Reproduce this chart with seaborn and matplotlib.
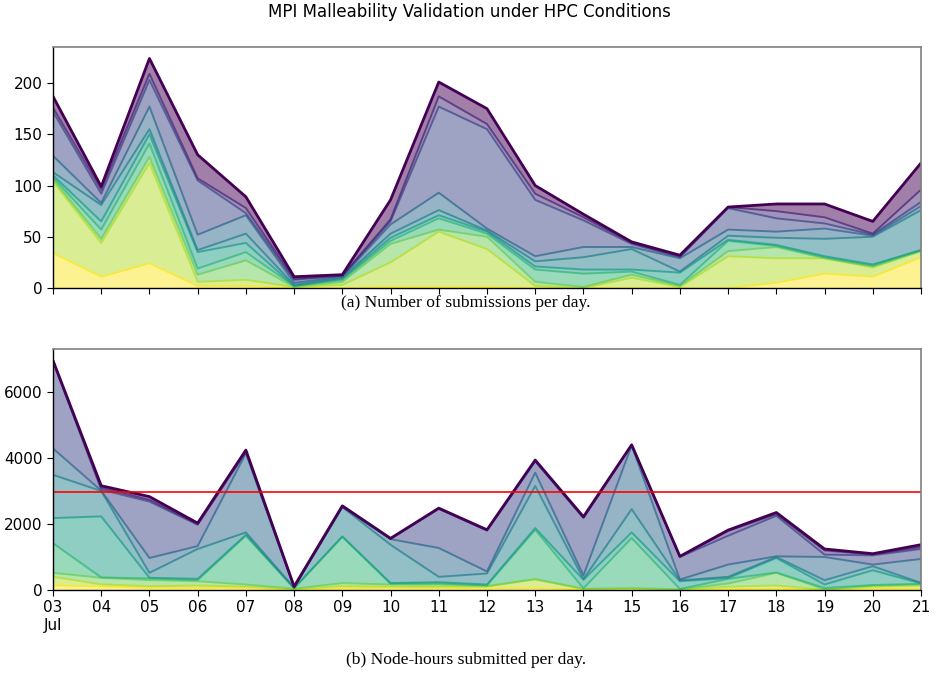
import numpy as np
import pandas as pd
import matplotlib
matplotlib.use("Agg")
import matplotlib.pyplot as plt
import seaborn as sns

days = pd.date_range("2023-07-03", "2023-07-21", freq="D")
day_labels = ["03\nJul"] + [d.strftime("%d") for d in days[1:]]

# submissions per day, one list per group (bottom of the stack first)
subs_g1 = [34, 11, 24, 2, 2, 0, 0, 1, 1, 1, 0, 0, 0, 0, 0, 5, 14, 11, 30]
subs_g2 = [70, 33, 98, 4, 6, 1, 3, 24, 54, 37, 2, 0, 10, 1, 31, 24, 15, 9, 6]
subs_g3 = [2, 4, 6, 7, 19, 0, 3, 18, 2, 12, 4, 1, 3, 1, 5, 11, 0, 1, 0]
subs_g4 = [2, 9, 13, 6, 8, 1, 2, 3, 11, 3, 12, 13, 3, 1, 10, 1, 1, 1, 1]
subs_g5 = [2, 8, 9, 16, 9, 0, 1, 3, 3, 2, 3, 4, 2, 12, 1, 1, 1, 1, 0]
subs_g6 = [3, 16, 5, 2, 9, 1, 1, 4, 5, 1, 5, 12, 20, 1, 4, 7, 17, 27, 39]
subs_g7 = [16, 2, 22, 15, 18, 2, 1, 9, 17, 2, 5, 10, 2, 13, 6, 6, 10, 1, 4]
subs_g8 = [43, 9, 26, 53, 2, 3, 1, 3, 84, 97, 55, 26, 3, 1, 21, 13, 5, 1, 4]
subs_g9 = [4, 4, 6, 2, 5, 1, 0, 2, 10, 5, 6, 3, 1, 1, 1, 7, 6, 1, 12]
subs_g10 = [11, 3, 15, 23, 11, 2, 1, 19, 14, 15, 8, 3, 1, 1, 0, 7, 13, 12, 26]

# node-hours per day, same groups
hours_g1 = [140, 110, 65, 66, 60, 20, 50, 66, 60, 50, 60, 20, 20, 0, 20, 40, 0, 50, 40]
hours_g2 = [260, 60, 50, 70, 40, 10, 65, 34, 36, 56, 260, 10, 20, 10, 76, 96, 10, 50, 96]
hours_g3 = [120, 200, 185, 130, 66, 10, 95, 66, 70, 14, 10, 10, 20, 10, 100, 383, 10, 36, 30]
hours_g4 = [900, 10, 50, 34, 1478, 10, 1400, 24, 34, 20, 1495, 10, 1515, 10, 142, 11, 40, 14, 21]
hours_g5 = [760, 1850, 20, 38, 30, 10, 15, 20, 36, 26, 51, 260, 169, 236, 22, 440, 106, 448, 13]
hours_g6 = [1310, 770, 150, 905, 70, 10, 885, 1160, 162, 334, 1277, 20, 706, 24, 38, 30, 130, 122, 17]
hours_g7 = [800, 10, 450, 87, 2396, 10, 10, 170, 875, 60, 401, 110, 1930, 27, 372, 20, 704, 50, 724]
hours_g8 = [2640, 30, 1710, 646, 40, 10, 10, 10, 1187, 1240, 346, 1740, 10, 683, 874, 1228, 71, 280, 302]
hours_g9 = [15, 60, 50, 24, 30, 10, 10, 8, 10, 15, 20, 20, 5, 10, 146, 52, 129, 25, 57]
hours_g10 = [10, 60, 100, 27, 30, 6, 10, 7, 10, 10, 17, 20, 5, 10, 25, 48, 43, 25, 73]

node_hours_limit = 2960

subs = [subs_g1, subs_g2, subs_g3, subs_g4, subs_g5, subs_g6, subs_g7, subs_g8, subs_g9, subs_g10]
hours = [hours_g1, hours_g2, hours_g3, hours_g4, hours_g5, hours_g6, hours_g7, hours_g8, hours_g9, hours_g10]

sns.set_style("ticks")
plt.rcParams['font.family'] = ['DejaVu Sans']

colors = plt.get_cmap("viridis")(np.linspace(1, 0, len(subs)))

fig = plt.figure(figsize=(9.38, 6.94), dpi=100)
ax1 = fig.add_axes([53/938, 1 - 288/694, 868/938, 241/694])
ax2 = fig.add_axes([53/938, 1 - 590/694, 868/938, 241/694])


def draw_stack(ax, layers):
    ax.stackplot(days, *layers, colors=colors, alpha=0.5, linewidth=0)
    tops = np.cumsum(np.array(layers), axis=0)
    for i, (top, c) in enumerate(zip(tops, colors)):
        last = i == len(layers) - 1
        sns.lineplot(x=days, y=top, color=c, ax=ax, linewidth=2 if last else 1.4,
                     alpha=1 if last else 0.75)
    ax.set_xlim(days[0], days[-1])
    ax.set_ylim(bottom=0)
    ax.set_xticks(days)
    ax.set_xlabel(""); ax.set_ylabel("")
    ax.tick_params(labelsize=11, colors="black", length=4)
    for s in ["top", "right"]:
        ax.spines[s].set_color("#808080"); ax.spines[s].set_linewidth(1.2)
    for s in ["left", "bottom"]:
        ax.spines[s].set_color("black"); ax.spines[s].set_linewidth(1)


draw_stack(ax1, subs)
ax1.set_xticklabels([])

draw_stack(ax2, hours)
ax2.axhline(node_hours_limit, color="red", linewidth=1.2)
ax2.set_xticklabels(day_labels)

fig.suptitle("MPI Malleability Validation under HPC Conditions", y=0.995, fontsize=12, color="black")
fig.text(466/938, 1 - 303/694, "(a) Number of submissions per day.", ha="center", va="center",
         fontsize=12.6, family=["Liberation Serif", "DejaVu Serif"], color="black")
fig.text(466/938, 1 - 660/694, "(b) Node-hours submitted per day.", ha="center", va="center",
         fontsize=12.6, family=["Liberation Serif", "DejaVu Serif"], color="black")

fig.savefig("out.png", dpi=100)
